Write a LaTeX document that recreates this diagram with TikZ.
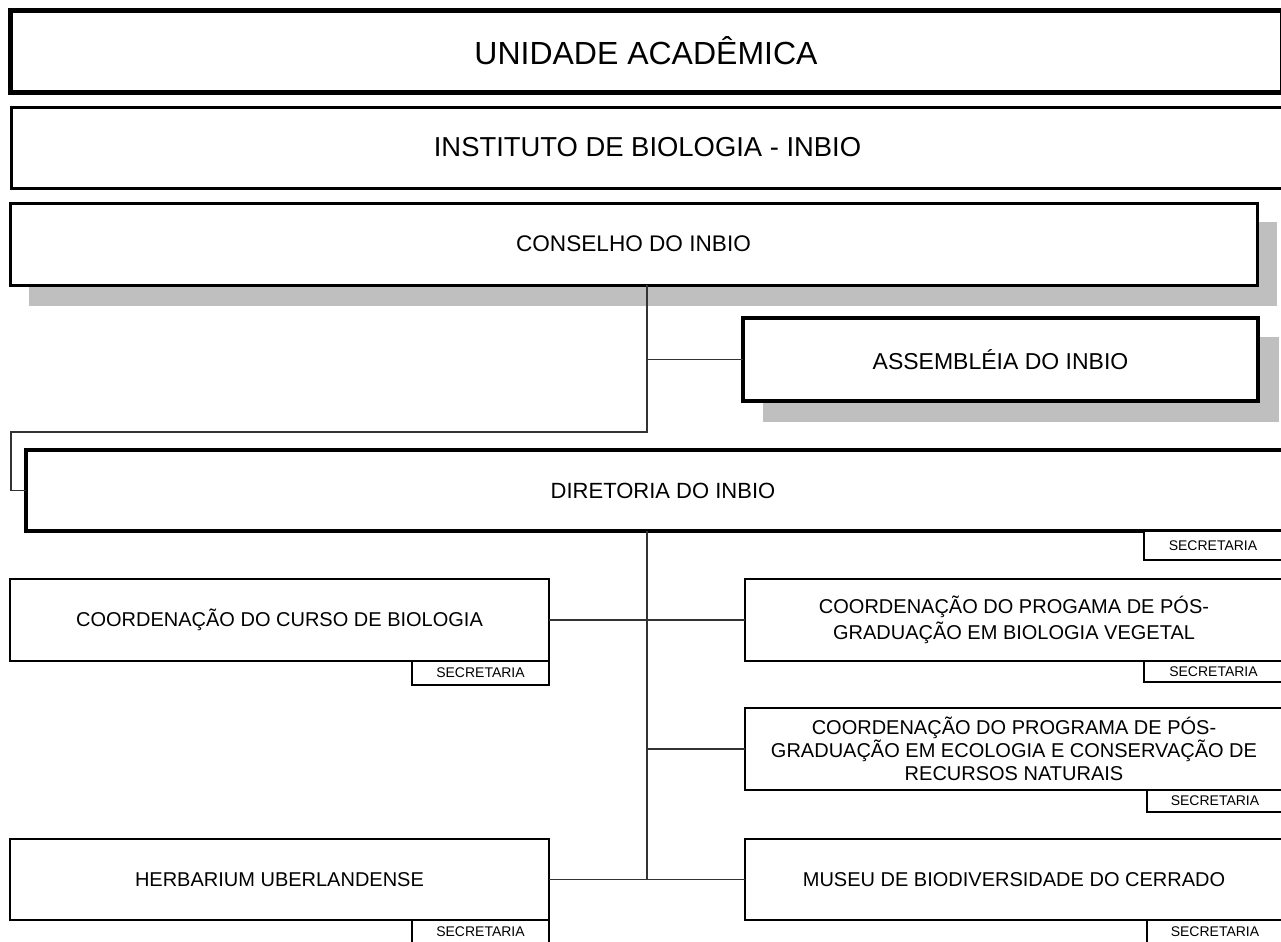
\documentclass[tikz,border=0pt]{standalone}
\usepackage{fontspec}
\setmainfont{Liberation Sans}
\usetikzlibrary{positioning,backgrounds}
\definecolor{ShadowGray}{HTML}{BFBFBF}
\definecolor{LinkGray}{HTML}{333333}
\tikzset{
  orgbox/.style={rectangle, draw=black, fill=white, anchor=north west,
             inner sep=0pt, outer sep=0pt, align=center,
             line width=1pt, font=\fontsize{10}{11.5}\selectfont},
  secbox/.style={orgbox, line width=0.75pt, font=\fontsize{7}{8}\selectfont},
  shadowbox/.style={fill=ShadowGray},
  link/.style={line width=0.6pt, draw=LinkGray},
}

\begin{document}
\begin{tikzpicture}[x=0.5pt, y=-0.5pt]
\clip (0,0) rectangle (1281,942);
% upper levels
\node[orgbox, line width=2.5pt, minimum width=636pt, minimum height=41pt,
      font=\fontsize{16}{18}\selectfont] (unid) at (10,10) {UNIDADE ACADÊMICA};
\node[orgbox, line width=1.5pt, minimum width=636.5pt, minimum height=40.5pt,
      font=\fontsize{13.7}{16}\selectfont] (inst) at (11,107) {INSTITUTO DE BIOLOGIA - INBIO};
\node[orgbox, line width=1.5pt, minimum width=623.5pt, minimum height=41pt,
      font=\fontsize{11.3}{13}\selectfont] (cons) at (10,203) {CONSELHO DO INBIO};
\node[orgbox, line width=2pt, minimum width=257.5pt, minimum height=41.5pt,
      font=\fontsize{11.5}{13}\selectfont] (assem) at (743,318) {ASSEMBLÉIA DO INBIO};
\node[orgbox, line width=1.75pt, minimum width=637pt, minimum height=40.5pt,
      font=\fontsize{11}{13}\selectfont] (dir) at (26,450) {DIRETORIA DO INBIO};
\node[secbox, anchor=north east, minimum width=69pt, minimum height=14.5pt]
      (dirsec) at (dir.south -| 1282,0) {SECRETARIA};
% shadows
\begin{scope}[on background layer]
\fill[white] (0,0) rectangle (1281,942);
\fill[shadowbox] ([shift={(19,19)}]cons.north west) rectangle ([shift={(20,21)}]cons.south east);
\fill[shadowbox] ([shift={(20,19)}]assem.north west) rectangle ([shift={(21,21)}]assem.south east);
\end{scope}
% lower levels
\node[orgbox, minimum width=269.5pt, minimum height=41pt] (curso) at (10,579)
      {COORDENAÇÃO DO CURSO DE BIOLOGIA};
\node[secbox, below left=0pt and 0pt of curso.south east, minimum width=68.5pt,
      minimum height=12pt] (cursosec) {SECRETARIA};
\node[orgbox, minimum width=269pt, minimum height=41pt,
      font=\fontsize{10}{13}\selectfont] (veget) at (745,579)
      {COORDENAÇÃO DO PROGAMA DE PÓS-\\GRADUAÇÃO EM BIOLOGIA VEGETAL};
\node[secbox, below left=0pt and 0pt of veget.south east, minimum width=69.5pt,
      minimum height=10.5pt] (vegetsec) {SECRETARIA};
\node[orgbox, minimum width=269pt, minimum height=41pt] (ecol) at (745,708)
      {COORDENAÇÃO DO PROGRAMA DE PÓS-\\GRADUAÇÃO EM ECOLOGIA E CONSERVAÇÃO DE\\RECURSOS NATURAIS};
\node[secbox, below left=0pt and 0pt of ecol.south east, minimum width=68pt,
      minimum height=11pt] (ecolsec) {SECRETARIA};
\node[orgbox, minimum width=269.5pt, minimum height=40.5pt] (herb) at (10,839)
      {HERBARIUM UBERLANDENSE};
\node[secbox, below left=0pt and 0pt of herb.south east, minimum width=68.5pt,
      minimum height=12pt] (herbsec) {SECRETARIA};
\node[orgbox, minimum width=269pt, minimum height=40.5pt] (museu) at (745,839)
      {MUSEU DE BIODIVERSIDADE DO CERRADO};
\node[secbox, below left=0pt and 0pt of museu.south east, minimum width=68pt,
      minimum height=12pt] (museusec) {SECRETARIA};
% connectors
\coordinate (trunk) at (647,432);
\coordinate (lbend) at (11,432);
\draw[link] (cons.south -| trunk) -- (trunk) -- (lbend) |- (dir.west);
\draw[link] (assem.west -| trunk) -- (assem.west);
\draw[link] (dir.south -| trunk) -- (herb.east -| trunk);
\draw[link] (curso.east) -- (veget.west);
\draw[link] (ecol.west -| trunk) -- (ecol.west);
\draw[link] (herb.east) -- (museu.west);
\end{tikzpicture}
\end{document}
